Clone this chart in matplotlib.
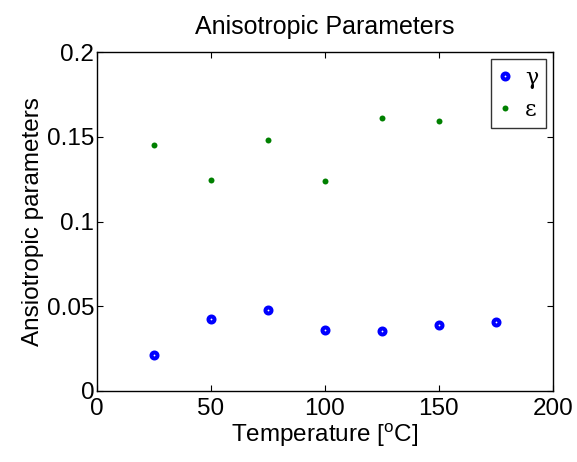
import matplotlib
matplotlib.use("Agg")
import matplotlib.pyplot as plt
from matplotlib.ticker import FuncFormatter

temp_gamma = [25, 50, 75, 100, 125, 150, 175]
gamma = [0.0211, 0.0425, 0.0475, 0.0357, 0.0351, 0.0390, 0.0404]
temp_eps = [25, 50, 75, 100, 125, 150]
epsilon = [0.145, 0.1244, 0.148, 0.1242, 0.1612, 0.1596]
xticks = [0, 50, 100, 150, 200]
yticks = [0, 0.05, 0.1, 0.15, 0.2]

plt.rcParams['font.family'] = ['Liberation Sans', 'DejaVu Sans']
plt.rcParams['mathtext.fontset'] = 'custom'
plt.rcParams['mathtext.rm'] = 'Liberation Sans'

fig = plt.figure(figsize=(5.77, 4.62), dpi=100)
ax = fig.add_axes([0.168, 0.154, 0.790, 0.733])

ax.plot(temp_gamma, gamma, linestyle='none', marker='o', ms=4.3, mew=2.9,
        mec='#0000ff', mfc='white', label='γ')
ax.plot(temp_eps, epsilon, linestyle='none', marker='o', ms=4.3, mew=0,
        mfc='#008000', label='ε')

ax.set_xlim(0, 200)
ax.set_ylim(0, 0.2)
ax.set_xticks(xticks)
ax.set_yticks(yticks)
ax.yaxis.set_major_formatter(FuncFormatter(lambda v, p: f"{v:g}"))
ax.tick_params(direction='in', top=True, right=True, length=4, width=0.8,
               labelsize=17.5)
ax.tick_params(axis='x', pad=5)
ax.tick_params(axis='y', pad=2)
for s in ax.spines.values():
    s.set_linewidth(1.0)

ax.set_title('Anisotropic Parameters', fontsize=18, pad=13)
ax.set_xlabel('Temperature [$^{\\mathrm{o}}$C]', fontsize=17.5, labelpad=1)
ax.set_ylabel('Ansiotropic parameters', fontsize=17.5, labelpad=2)

leg = ax.legend(loc='upper right', prop={'family': 'DejaVu Serif', 'size': 16},
                frameon=True, fancybox=False, edgecolor='black',
                borderaxespad=0.3, handlelength=0.6, handletextpad=0.6,
                borderpad=0.35, labelspacing=0.45)
leg.get_frame().set_linewidth(1.0)

fig.savefig('out.png', dpi=100)
